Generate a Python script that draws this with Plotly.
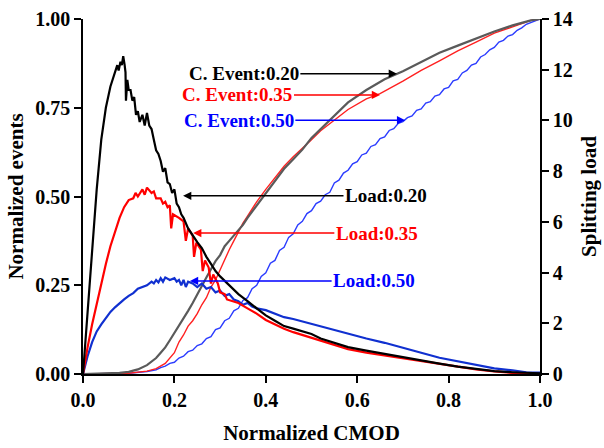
import plotly.graph_objects as go

# ---------------- data ----------------
# Splitting load curves (kN, right axis) vs normalized CMOD
load20_x = [0, 0.01, 0.02, 0.03, 0.04, 0.05, 0.06, 0.07, 0.075, 0.078, 0.082, 0.085, 0.088, 0.091, 0.093, 0.094,
            0.097, 0.10, 0.104, 0.108, 0.112, 0.116, 0.12, 0.124, 0.13, 0.135, 0.14, 0.145, 0.15, 0.155, 0.16,
            0.165, 0.17, 0.175, 0.18, 0.185, 0.19, 0.195, 0.2, 0.205, 0.21, 0.215, 0.22, 0.23, 0.24, 0.25, 0.26,
            0.27, 0.28, 0.29, 0.30, 0.32, 0.34, 0.36, 0.38, 0.40, 0.42, 0.44, 0.46, 0.48, 0.50, 0.52, 0.55, 0.58,
            0.62, 0.66, 0.70, 0.74, 0.78, 0.82, 0.86, 0.90, 0.94, 0.98, 1.0]
load20_y = [0, 2.38, 4.76, 7.28, 9.24, 10.5, 11.34, 11.9, 12.18, 11.97, 12.32, 12.18, 12.53, 12.2, 11.9, 10.78,
            11.6, 11.2, 11.2, 10.78, 10.92, 10.22, 10.36, 9.94, 10.22, 9.8, 10.29, 9.8, 9.66, 9.24, 8.82,
            8.68, 8.4, 7.98, 8.12, 7.56, 7.49, 7.14, 7.28, 6.72, 6.58, 6.3, 6.16, 5.74, 5.46, 5.2, 4.97,
            4.62, 4.34, 4.06, 3.85, 3.5, 3.15, 2.87, 2.59, 2.31, 2.1, 1.89, 1.79, 1.68, 1.58, 1.4, 1.22, 1.06,
            0.92, 0.79, 0.65, 0.52, 0.41, 0.29, 0.2, 0.11, 0.07, 0.04, 0.03]

load35_x = [0, 0.005, 0.01, 0.02, 0.03, 0.04, 0.05, 0.06, 0.07, 0.08, 0.09, 0.1, 0.11, 0.115, 0.12, 0.13,
            0.135, 0.14, 0.15, 0.155, 0.16, 0.17, 0.175, 0.18, 0.185, 0.19, 0.193, 0.197, 0.21, 0.22, 0.225,
            0.23, 0.24, 0.243, 0.248, 0.258, 0.262, 0.267, 0.275, 0.28, 0.285, 0.295, 0.30, 0.31, 0.315,
            0.33, 0.34, 0.36, 0.38, 0.40, 0.42, 0.44, 0.46, 0.48, 0.50, 0.52, 0.55, 0.58, 0.62, 0.66, 0.70,
            0.74, 0.78, 0.82, 0.86, 0.90, 0.94, 0.97, 1.0]
load35_y = [0, 0.56, 1.05, 1.96, 2.8, 3.64, 4.34, 5.04, 5.6, 6.16, 6.58, 6.86, 6.93, 7.14, 7.0, 7.28,
            7.07, 7.35, 7.14, 7.2, 6.93, 6.93, 6.72, 6.79, 6.58, 6.65, 5.74, 6.3, 6.16, 6.02, 5.25,
            5.74, 5.46, 4.62, 5.18, 4.9, 4.06, 4.48, 4.2, 3.57, 3.92, 3.57, 3.22, 3.15, 2.94,
            2.87, 2.8, 2.59, 2.38, 2.13, 1.96, 1.78, 1.65, 1.54, 1.44, 1.33, 1.15, 0.98, 0.84, 0.73, 0.62,
            0.5, 0.39, 0.28, 0.18, 0.1, 0.04, 0.0, 0.0]

load50_x = [0, 0.005, 0.01, 0.02, 0.03, 0.04, 0.05, 0.06, 0.07, 0.08, 0.09, 0.10, 0.11, 0.12, 0.13, 0.14, 0.15,
            0.155, 0.16, 0.165, 0.17, 0.175, 0.18, 0.19, 0.2, 0.205, 0.21, 0.215, 0.22, 0.225, 0.23, 0.24,
            0.25, 0.26, 0.27, 0.28, 0.29, 0.30, 0.31, 0.32, 0.33, 0.34, 0.35, 0.36, 0.37, 0.38, 0.40, 0.42,
            0.44, 0.46, 0.48, 0.50, 0.52, 0.55, 0.58, 0.62, 0.66, 0.70, 0.74, 0.78, 0.82, 0.86, 0.90, 0.94,
            0.97, 1.0]
load50_y = [0, 0.35, 0.7, 1.26, 1.68, 1.96, 2.21, 2.45, 2.63, 2.8, 2.94, 3.08, 3.19, 3.36, 3.43, 3.5, 3.64,
            3.57, 3.71, 3.61, 3.78, 3.64, 3.81, 3.71, 3.78, 3.64, 3.71, 3.5, 3.71, 3.43, 3.64, 3.57,
            3.43, 3.57, 3.36, 3.43, 3.22, 3.29, 3.08, 3.15, 2.94, 2.87, 2.73, 2.8, 2.66, 2.59, 2.52, 2.38,
            2.24, 2.17, 2.07, 2.0, 1.89, 1.74, 1.58, 1.4, 1.23, 1.02, 0.84, 0.64, 0.5, 0.36, 0.22, 0.14,
            0.07, 0.06]

# Cumulative (normalized) events, left axis
cev20_x = [0, 0.05, 0.08, 0.1, 0.12, 0.14, 0.16, 0.17, 0.18, 0.19, 0.2, 0.21, 0.22, 0.23, 0.24, 0.25, 0.26,
           0.27, 0.28, 0.29, 0.30, 0.31, 0.32, 0.33, 0.34, 0.35, 0.36, 0.38, 0.40, 0.42, 0.44, 0.46, 0.48,
           0.50, 0.52, 0.55, 0.58, 0.62, 0.66, 0.70, 0.74, 0.78, 0.82, 0.86, 0.90, 0.94, 0.98, 1.0]
cev20_y = [0, 0.001, 0.003, 0.006, 0.013, 0.025, 0.045, 0.06, 0.075, 0.095, 0.115, 0.135, 0.155, 0.178, 0.2, 0.225,
           0.25, 0.272, 0.295, 0.318, 0.335, 0.36, 0.375, 0.39, 0.405, 0.42, 0.44, 0.475, 0.51, 0.545, 0.578,
           0.605, 0.632, 0.665, 0.69, 0.73, 0.765, 0.80, 0.83, 0.853, 0.878, 0.905, 0.925, 0.945, 0.965,
           0.982, 0.996, 1.0]

cev35_x = [0, 0.1, 0.14, 0.16, 0.18, 0.19, 0.2, 0.21, 0.22, 0.23, 0.24, 0.25, 0.26, 0.27, 0.28, 0.29, 0.30,
           0.31, 0.32, 0.33, 0.34, 0.35, 0.36, 0.38, 0.40, 0.42, 0.44, 0.46, 0.48, 0.50, 0.52, 0.55, 0.58,
           0.62, 0.65, 0.70, 0.74, 0.78, 0.82, 0.86, 0.90, 0.94, 0.98, 1.0]
cev35_y = [0, 0.002, 0.008, 0.015, 0.03, 0.045, 0.06, 0.09, 0.11, 0.135, 0.15, 0.17, 0.195, 0.215, 0.245, 0.265,
           0.295, 0.32, 0.35, 0.375, 0.40, 0.425, 0.445, 0.485, 0.52, 0.553, 0.585, 0.612, 0.635, 0.66, 0.685,
           0.715, 0.745, 0.775, 0.79, 0.825, 0.855, 0.882, 0.91, 0.935, 0.96, 0.978, 0.996, 1.0]

cev50_x = [0, 0.1, 0.14, 0.16, 0.17, 0.18, 0.19, 0.20, 0.21, 0.22, 0.23, 0.24, 0.25, 0.26, 0.27, 0.28, 0.29,
           0.30, 0.31, 0.32, 0.33, 0.34, 0.35, 0.36, 0.37, 0.38, 0.39, 0.40, 0.41, 0.42, 0.43, 0.44, 0.45,
           0.46, 0.47, 0.48, 0.49, 0.50, 0.51, 0.52, 0.53, 0.54, 0.55, 0.56, 0.57, 0.58, 0.59, 0.60, 0.61,
           0.62, 0.63, 0.64, 0.65, 0.66, 0.67, 0.68, 0.69, 0.70, 0.71, 0.72, 0.73, 0.74, 0.75, 0.76, 0.77,
           0.78, 0.79, 0.80, 0.81, 0.82, 0.83, 0.84, 0.85, 0.86, 0.87, 0.88, 0.89, 0.90, 0.91, 0.92, 0.93,
           0.94, 0.95, 0.96, 0.97, 0.98, 0.99, 1.0]
cev50_y = [0, 0.002, 0.007, 0.012, 0.018, 0.022, 0.03, 0.033, 0.045, 0.05, 0.063, 0.067, 0.08, 0.085, 0.1,
           0.105, 0.125, 0.13, 0.15, 0.157, 0.178, 0.185, 0.207, 0.215, 0.24, 0.25, 0.275, 0.285, 0.312,
           0.32, 0.348, 0.357, 0.385, 0.395, 0.42, 0.43, 0.452, 0.46, 0.48, 0.487, 0.505, 0.512, 0.538, 0.546,
           0.566, 0.574, 0.592, 0.598, 0.617, 0.622, 0.641, 0.646, 0.663, 0.668, 0.686, 0.691, 0.706, 0.711,
           0.722, 0.727, 0.743, 0.747, 0.763, 0.767, 0.783, 0.787, 0.803, 0.807, 0.826, 0.83, 0.848, 0.855,
           0.87, 0.875, 0.893, 0.9, 0.913, 0.92, 0.935, 0.94, 0.952, 0.956, 0.968, 0.975, 0.985, 0.99,
           0.997, 1.0]

x_ticks = [0.0, 0.2, 0.4, 0.6, 0.8, 1.0]
y_ticks = [0.00, 0.25, 0.50, 0.75, 1.00]
y2_ticks = [0, 2, 4, 6, 8, 10, 12, 14]

FONT = "Liberation Serif, Times New Roman, serif"
BLACK, RED, BLUE, GRAY = "#000000", "#ff0000", "#0000ff", "#5a5a5a"

fig = go.Figure()
# cumulative events (left axis)
fig.add_trace(go.Scatter(x=cev50_x, y=cev50_y, mode="lines", line=dict(color="#2b3cff", width=1.4)))
fig.add_trace(go.Scatter(x=cev35_x, y=cev35_y, mode="lines", line=dict(color="#ff2020", width=1.4)))
fig.add_trace(go.Scatter(x=cev20_x, y=cev20_y, mode="lines", line=dict(color=GRAY, width=2.2)))
# loads (right axis)
fig.add_trace(go.Scatter(x=load50_x, y=load50_y, yaxis="y2", mode="lines", line=dict(color="#1030d0", width=2.2)))
fig.add_trace(go.Scatter(x=load35_x, y=load35_y, yaxis="y2", mode="lines", line=dict(color=RED, width=2.2)))
fig.add_trace(go.Scatter(x=load20_x, y=load20_y, yaxis="y2", mode="lines", line=dict(color=BLACK, width=2.2)))

def arrow(text, color, tx, ty, hx, hy):
    fig.add_annotation(x=hx, y=hy, ax=tx, ay=ty, xref="x", yref="y", axref="x", ayref="y",
                       text="<b>%s</b>" % text, showarrow=True, arrowhead=2, arrowsize=1.1,
                       arrowwidth=1.5, arrowcolor=color, standoff=0, startstandoff=0,
                       font=dict(family=FONT, size=19, color=color))

arrow("C. Event:0.20", BLACK, 0.352, 0.846, 0.687, 0.846)
arrow("C. Event:0.35", RED, 0.338, 0.786, 0.65, 0.786)
arrow("C. Event:0.50", BLUE, 0.341, 0.715, 0.705, 0.715)
arrow("Load:0.20", BLACK, 0.663, 0.502, 0.219, 0.502)
arrow("Load:0.35", RED, 0.643, 0.397, 0.241, 0.397)
arrow("Load:0.50", BLUE, 0.637, 0.262, 0.234, 0.262)

axis_common = dict(showgrid=False, zeroline=False, showline=True, linecolor="black", linewidth=1.5,
                   ticks="outside", ticklen=7, tickwidth=1.5, tickcolor="black", automargin=False,
                   tickfont=dict(family=FONT, size=20, color="black"))

fig.update_layout(
    template="none",
    width=604, height=448, autosize=False,
    margin=dict(l=83, r=64, t=19, b=74, pad=0),
    plot_bgcolor="white", paper_bgcolor="white", showlegend=False,
    font=dict(family=FONT, color="black"),
    xaxis=dict(range=[0, 1], tickvals=x_ticks, ticktext=["<b>%.1f</b>" % v for v in x_ticks],
               title=dict(text="<b>Normalized CMOD</b>", font=dict(family=FONT, size=21), standoff=16),
               **axis_common),
    yaxis=dict(range=[0, 1], tickvals=y_ticks, ticktext=["<b>%.2f</b>" % v for v in y_ticks],
               title=dict(text="<b>Normalized events</b>", font=dict(family=FONT, size=21), standoff=6),
               **axis_common),
    yaxis2=dict(range=[0, 14], tickvals=y2_ticks, ticktext=["<b>%d</b>" % v for v in y2_ticks],
                overlaying="y", side="right",
                title=dict(text="<b>Splitting load</b>", font=dict(family=FONT, size=21), standoff=10),
                **axis_common),
)

fig.write_html("out.html", config={"displayModeBar": False},
               post_script="document.body.style.margin='0';document.body.style.overflow='hidden';")
